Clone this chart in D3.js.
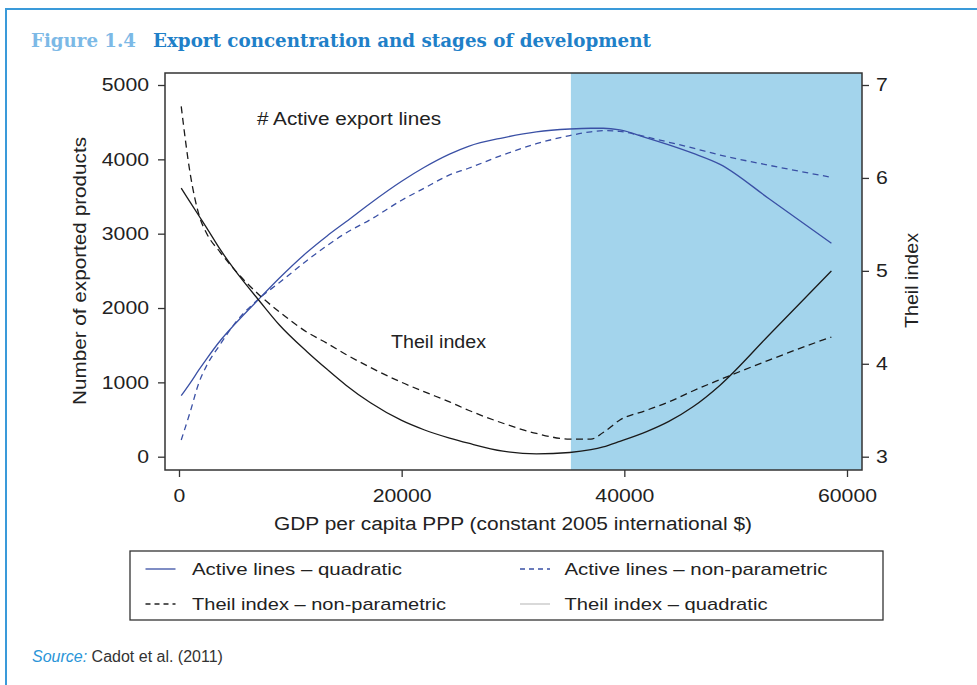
<!DOCTYPE html>
<html>
<head>
<meta charset="utf-8">
<script src="https://cdn.jsdelivr.net/npm/d3@7"></script>
<style>
  body { margin: 0; background: #fff; }
  text { font-family: "Liberation Sans", Arial, Helvetica, sans-serif; fill: #222; }
</style>
</head>
<body>
<svg id="chart" width="977" height="685"></svg>
<script>
// GDP per capita PPP grid (constant 2005 international $)
var gdp = [200, 1000, 1800, 2500, 3700, 5000, 7300, 9000, 11500, 13300, 15000, 17200, 20000, 22000,
  24300, 26000, 29100, 32100, 35100, 37000, 38100, 39600, 42000, 44000, 46200, 48600, 53000, 58600];

// number of exported products (left axis)
var activeQuadratic = [820, 990, 1170, 1320, 1560, 1780, 2140, 2400, 2750, 2970, 3160, 3410, 3705, 3890,
  4070, 4175, 4290, 4370, 4408, 4418, 4418, 4395, 4290, 4195, 4080, 3933, 3470, 2871];
var activeNonParam = [225, 600, 1000, 1230, 1510, 1790, 2140, 2340, 2640, 2840, 3010, 3190, 3450, 3610,
  3790, 3880, 4060, 4210, 4320, 4370, 4386, 4375, 4300, 4230, 4150, 4058, 3920, 3758];

// Theil index (right axis)
var theilQuadratic = [5.89, 5.74, 5.59, 5.46, 5.23, 5.01, 4.665, 4.42, 4.13, 3.94, 3.77, 3.58, 3.39, 3.29,
  3.20, 3.145, 3.06, 3.03, 3.045, 3.075, 3.105, 3.165, 3.27, 3.38, 3.54, 3.77, 4.31, 5.00];
var theilNonParam = [6.77, 6.05, 5.60, 5.40, 5.20, 5.01, 4.73, 4.56, 4.34, 4.22, 4.10, 3.96, 3.80, 3.70,
  3.59, 3.50, 3.36, 3.25, 3.19, 3.19, 3.26, 3.395, 3.50, 3.59, 3.71, 3.83, 4.04, 4.29];

var xTicks = [0, 20000, 40000, 60000];
var leftTicks = [0, 1000, 2000, 3000, 4000, 5000];
var rightTicks = [3, 4, 5, 6, 7];
var shadeFrom = 35200;

var legendItems = [
  { label: "Active lines \u2013 quadratic", color: "#3a50a5", dash: null },
  { label: "Active lines \u2013 non-parametric", color: "#3a50a5", dash: "5,4" },
  { label: "Theil index \u2013 non-parametric", color: "#222", dash: "5,4" },
  { label: "Theil index \u2013 quadratic", color: "#c4c4c4", dash: null }
];

var svg = d3.select("#chart");
var frame = { left: 165, right: 862, top: 73, bottom: 470 };

var x = d3.scaleLinear().domain([0, 60000]).range([179, 847]);
var yLeft = d3.scaleLinear().domain([0, 5000]).range([456.7, 85]);
var yRight = d3.scaleLinear().domain([3, 7]).range([456.7, 85]);

// stretch a text to a given width
var fit = function(sel, w) {
  sel.attr("textLength", w).attr("lengthAdjust", "spacingAndGlyphs");
};

// page border (top + left)
svg.append("path")
  .attr("d", "M6,685 V9 H977")
  .attr("fill", "none")
  .attr("stroke", "#3a9ad9")
  .attr("stroke-width", 2);

// title
svg.append("text")
  .text("Figure 1.4")
  .attr("x", 31).attr("y", 47)
  .style("font-family", "'DejaVu Serif', serif")
  .style("font-weight", "bold")
  .style("font-size", "18px")
  .style("fill", "#7cb9e6")
  .call(fit, 105);
svg.append("text")
  .text("Export concentration and stages of development")
  .attr("x", 153).attr("y", 47)
  .style("font-family", "'DejaVu Serif', serif")
  .style("font-weight", "bold")
  .style("font-size", "18px")
  .style("fill", "#1f80c8")
  .call(fit, 498);

// shaded high-income area
svg.append("rect")
  .attr("x", x(shadeFrom))
  .attr("y", frame.top)
  .attr("width", frame.right - x(shadeFrom))
  .attr("height", frame.bottom - frame.top)
  .style("fill", "#a3d4ec");

// series lines
var line = function(yScale, values) {
  return d3.line()
    .x(function(d, i) { return x(gdp[i]); })
    .y(function(d) { return yScale(d); })
    .curve(d3.curveMonotoneX)(values);
};

var series = [
  { values: activeQuadratic, scale: yLeft, color: "#3a50a5", dash: null },
  { values: activeNonParam, scale: yLeft, color: "#3a50a5", dash: "6,4.5" },
  { values: theilQuadratic, scale: yRight, color: "#1a1a1a", dash: null },
  { values: theilNonParam, scale: yRight, color: "#1a1a1a", dash: "7,4.5" }
];
series.forEach(function(s) {
  svg.append("path")
    .attr("d", line(s.scale, s.values))
    .attr("fill", "none")
    .attr("stroke", s.color)
    .attr("stroke-width", 1.3)
    .attr("stroke-dasharray", s.dash);
});

// frame
svg.append("rect")
  .attr("x", frame.left).attr("y", frame.top)
  .attr("width", frame.right - frame.left)
  .attr("height", frame.bottom - frame.top)
  .attr("fill", "none")
  .attr("stroke", "#333")
  .attr("stroke-width", 1.5);

// axes
var styleAxis = function(g) {
  g.select(".domain").remove();
  g.selectAll(".tick line").attr("stroke", "#333").attr("stroke-width", 1.3);
  g.selectAll(".tick text")
    .style("font-size", "18px")
    .style("fill", "#222")
    .attr("font-family", null)
    .each(function() {
      var t = d3.select(this);
      t.call(fit, t.text().length * 11.8);
    });
};

svg.append("g")
  .attr("transform", "translate(" + frame.left + ",0)")
  .call(d3.axisLeft(yLeft).tickValues(leftTicks).tickSize(7).tickPadding(9).tickFormat(d3.format("d")))
  .call(styleAxis);

svg.append("g")
  .attr("transform", "translate(" + frame.right + ",0)")
  .call(d3.axisRight(yRight).tickValues(rightTicks).tickSize(7).tickPadding(7).tickFormat(d3.format("d")))
  .call(styleAxis);

svg.append("g")
  .attr("transform", "translate(0," + frame.bottom + ")")
  .call(d3.axisBottom(x).tickValues(xTicks).tickSize(7).tickPadding(12).tickFormat(d3.format("d")))
  .call(styleAxis);

// axis titles
svg.append("text")
  .text("GDP per capita PPP (constant 2005 international $)")
  .attr("x", 274).attr("y", 530)
  .style("font-size", "18px")
  .call(fit, 478);

svg.append("text")
  .text("Number of exported products")
  .attr("transform", "translate(86,405) rotate(-90)")
  .style("font-size", "19px")
  .call(fit, 268);

svg.append("text")
  .text("Theil index")
  .attr("transform", "translate(918,328) rotate(-90)")
  .style("font-size", "19px")
  .call(fit, 95);

// in-plot annotations
svg.append("text")
  .text("# Active export lines")
  .attr("x", 257).attr("y", 125)
  .style("font-size", "18px")
  .call(fit, 184);

svg.append("text")
  .text("Theil index")
  .attr("x", 391).attr("y", 348)
  .style("font-size", "18px")
  .call(fit, 95);

// legend
svg.append("rect")
  .attr("x", 130).attr("y", 551)
  .attr("width", 753).attr("height", 69)
  .attr("fill", "#fff")
  .attr("stroke", "#333")
  .attr("stroke-width", 1.3);

var legendPos = [
  { lx: 145.5, tx: 192, y: 569, w: 210 },
  { lx: 520, tx: 564.5, y: 569, w: 263 },
  { lx: 145.5, tx: 192, y: 604, w: 254 },
  { lx: 520, tx: 564.5, y: 604, w: 203 }
];
legendItems.forEach(function(item, i) {
  var p = legendPos[i];
  svg.append("line")
    .attr("x1", p.lx).attr("x2", p.lx + 30)
    .attr("y1", p.y).attr("y2", p.y)
    .attr("stroke", item.color)
    .attr("stroke-width", 1.3)
    .attr("stroke-dasharray", item.dash);
  svg.append("text")
    .text(item.label)
    .attr("x", p.tx).attr("y", p.y + 6)
    .style("font-size", "17px")
    .call(fit, p.w);
});

// source note
var src = svg.append("text")
  .attr("x", 32).attr("y", 662)
  .style("font-size", "16px");
src.append("tspan")
  .text("Source:")
  .style("font-style", "italic")
  .style("fill", "#2a95d8");
src.append("tspan")
  .text(" Cadot et al. (2011)")
  .style("fill", "#333");
</script>
</body>
</html>
